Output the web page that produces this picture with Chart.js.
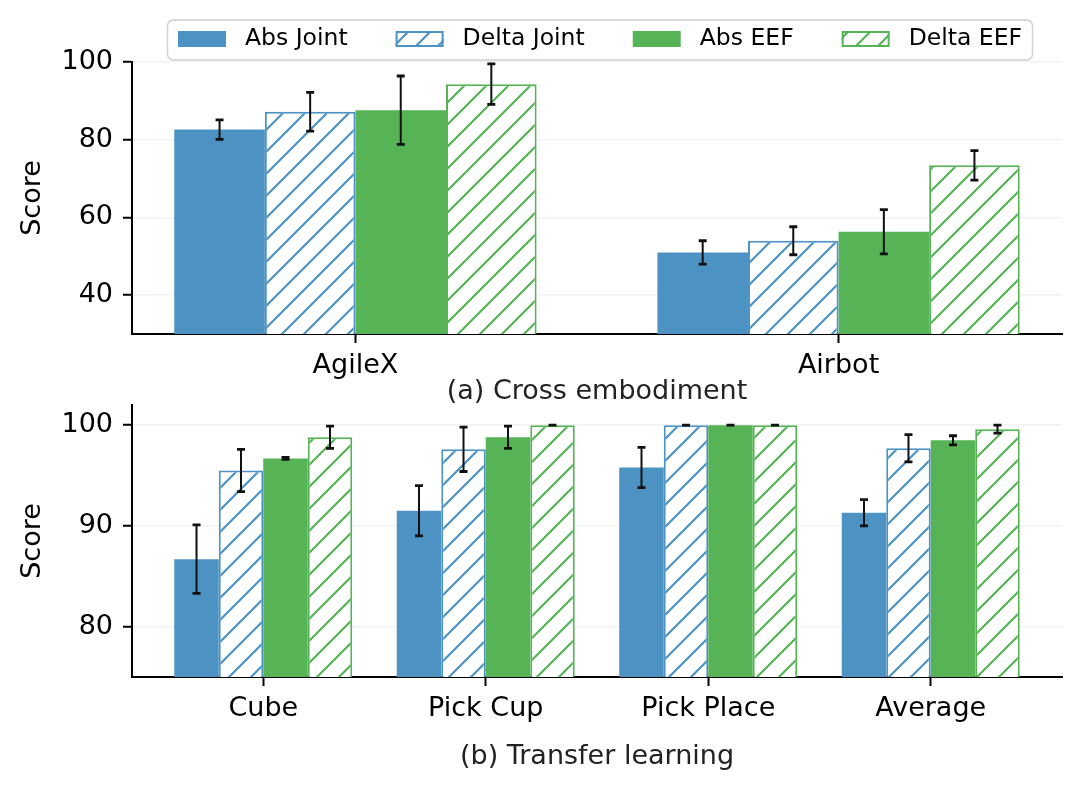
<!DOCTYPE html>
<html>
<head>
<meta charset="utf-8">
<script src="https://cdn.jsdelivr.net/npm/chart.js@4.4.1/dist/chart.umd.min.js"></script>
<style>
  html, body { margin: 0; padding: 0; background: #fff; }
  #wrap { position: relative; width: 1082px; height: 794px; overflow: hidden; }
  .box { position: absolute; left: 0; width: 1082px; }
  #topBox { top: 0; height: 420px; }
  #botBox { top: 400px; height: 394px; }
</style>
</head>
<body>
<div id="wrap">
  <div class="box" id="topBox"><canvas id="topChart"></canvas></div>
  <div class="box" id="botBox"><canvas id="botChart"></canvas></div>
</div>
<script>
// ---- data ----
const seriesNames = ['Abs Joint', 'Delta Joint', 'Abs EEF', 'Delta EEF'];

// (a) cross embodiment
const topCats = ['AgileX', 'Airbot'];
const topAbsJoint = [82.6, 51.0];
const topDeltaJoint = [87.2, 54.0];
const topAbsEef = [87.6, 56.3];
const topDeltaEef = [94.3, 73.4];
const topAbsJointErr = [2.5, 3.0];
const topDeltaJointErr = [5.0, 3.6];
const topAbsEefErr = [8.8, 5.7];
const topDeltaEefErr = [5.2, 3.8];
const topTicks = [40, 60, 80, 100];

// (b) transfer learning
const botCats = ['Cube', 'Pick Cup', 'Pick Place', 'Average'];
const botAbsJoint = [86.7, 91.5, 95.8, 91.3];
const botDeltaJoint = [95.5, 97.6, 100, 97.7];
const botAbsEef = [96.7, 98.8, 100, 98.5];
const botDeltaEef = [98.8, 100, 100, 99.6];
const botAbsJointErr = [3.4, 2.5, 2.0, 1.3];
const botDeltaJointErr = [2.1, 2.2, 0, 1.35];
const botAbsEefErr = [0.1, 1.1, 0, 0.45];
const botDeltaEefErr = [1.1, 0, 0, 0.4];
const botTicks = [80, 90, 100];

// ---- style ----
const BLUE = 'rgb(76,146,195)';
const GREEN = 'rgb(86,179,86)';
const colors = [BLUE, BLUE, GREEN, GREEN];
const hatched = [false, true, false, true];
const FONT = '"DejaVu Sans"';

Chart.defaults.font.family = FONT;
Chart.defaults.color = '#000';

// diagonal "/" hatch
function hatch(color) {
  const s = 22;
  const c = document.createElement('canvas');
  c.width = s; c.height = s;
  const g = c.getContext('2d');
  g.fillStyle = '#fff';
  g.fillRect(0, 0, s, s);
  g.strokeStyle = color;
  g.lineWidth = 2.2;
  g.beginPath();
  g.moveTo(-2, s + 2); g.lineTo(s + 2, -2);
  g.moveTo(-2, 2); g.lineTo(2, -2);
  g.moveTo(s - 2, s + 2); g.lineTo(s + 2, s - 2);
  g.stroke();
  return g.createPattern(c, 'repeat');
}

function makeDatasets(valueLists, errLists) {
  return seriesNames.map((name, k) => ({
    label: name,
    data: valueLists[k].map((v, i) => ({ x: i, y: v })),
    errors: errLists[k],
    backgroundColor: hatched[k] ? hatch(colors[k]) : colors[k],
    borderColor: colors[k],
    borderWidth: hatched[k] ? 2 : 0,
    borderSkipped: false,
  }));
}

const errorBars = {
  id: 'errorBars',
  afterDatasetsDraw(chart) {
    const ctx = chart.ctx;
    const yScale = chart.scales.y;
    ctx.save();
    ctx.strokeStyle = '#111';
    chart.data.datasets.forEach((ds, k) => {
      const meta = chart.getDatasetMeta(k);
      meta.data.forEach((bar, i) => {
        const v = ds.data[i].y, e = ds.errors[i];
        const y1 = yScale.getPixelForValue(v + e);
        const y2 = yScale.getPixelForValue(v - e);
        ctx.lineWidth = 2;
        ctx.beginPath();
        ctx.moveTo(bar.x, y1); ctx.lineTo(bar.x, y2);
        ctx.stroke();
        ctx.lineWidth = 2.8;
        ctx.beginPath();
        ctx.moveTo(bar.x - 4, y1); ctx.lineTo(bar.x + 4, y1);
        ctx.moveTo(bar.x - 4, y2); ctx.lineTo(bar.x + 4, y2);
        ctx.stroke();
      });
    });
    ctx.restore();
  }
};

// framed legend above the top panel
const legendBox = {
  id: 'legendBox',
  afterDraw(chart) {
    const ctx = chart.ctx;
    const sw = 48, sh = 16, gapText = 19, colGap = 48, padX = 10.5;
    ctx.save();
    ctx.font = '23.5px ' + FONT;
    const widths = chart.data.datasets.map(d => ctx.measureText(d.label).width);
    const total = widths.reduce((a, w) => a + sw + gapText + w, 0) + colGap * (widths.length - 1);
    const boxW = total + 2 * padX;
    const bx = 600 - boxW / 2, by = 20, bh = 40;
    ctx.beginPath();
    ctx.roundRect(bx, by, boxW, bh, 6);
    ctx.fillStyle = 'rgba(255,255,255,0.9)';
    ctx.fill();
    ctx.strokeStyle = '#d0d0d0';
    ctx.lineWidth = 1.5;
    ctx.stroke();
    let x = bx + padX;
    const cy = by + bh / 2 - 1;
    chart.data.datasets.forEach((d, k) => {
      ctx.fillStyle = d.backgroundColor;
      ctx.fillRect(x, cy - sh / 2, sw, sh);
      if (d.borderWidth) {
        ctx.strokeStyle = d.borderColor;
        ctx.lineWidth = 2;
        ctx.strokeRect(x + 1, cy - sh / 2 + 1, sw - 2, sh - 2);
      }
      ctx.fillStyle = '#000';
      ctx.textBaseline = 'middle';
      ctx.textAlign = 'left';
      ctx.fillText(d.label, x + sw + gapText, cy);
      x += sw + gapText + widths[k] + colGap;
    });
    ctx.restore();
  }
};

function makeOptions(cfg) {
  return {
    responsive: true,
    maintainAspectRatio: false,
    animation: false,
    layout: { autoPadding: false, padding: { top: cfg.padTop, right: 20, left: 0, bottom: 0 } },
    datasets: { bar: { categoryPercentage: cfg.groupFrac, barPercentage: 1 } },
    plugins: { legend: { display: false }, tooltip: { enabled: false } },
    scales: {
      x: {
        type: 'linear',
        offset: false,
        min: cfg.xMin,
        max: cfg.xMax,
        afterBuildTicks: (s) => { s.ticks = cfg.cats.map((_, i) => ({ value: i })); },
        afterFit: (s) => { s.height = cfg.xHeight; s.paddingLeft = 0; s.paddingRight = 0; },
        ticks: {
          callback: (v) => cfg.cats[v],
          autoSkip: false, maxRotation: 0, padding: 7,
          font: { size: 27 }, color: '#000'
        },
        grid: { offset: false, drawOnChartArea: false, drawTicks: true, tickLength: 9, tickWidth: 2, tickColor: '#000' },
        border: { display: true, color: '#000', width: 2 },
        title: {
          display: true, text: cfg.caption,
          font: { size: 27 }, color: '#222',
          padding: { top: 0, bottom: cfg.captionPad }
        }
      },
      y: {
        min: cfg.yMin,
        max: cfg.yMax,
        afterBuildTicks: (s) => { s.ticks = cfg.yTicks.map(v => ({ value: v })); },
        afterFit: (s) => { s.width = 132; s.paddingTop = 0; s.paddingBottom = 0; },
        ticks: { padding: 10, font: { size: 27 }, color: '#000' },
        grid: { color: 'rgba(0,0,0,0.05)', lineWidth: 1.5, drawTicks: true, tickLength: 9, tickWidth: 2, tickColor: '#000' },
        border: { display: true, color: '#000', width: 2 },
        title: {
          display: true, text: 'Score',
          font: { size: 27 }, color: '#000',
          padding: { top: 17, bottom: 0 }
        }
      }
    }
  };
}

new Chart(document.getElementById('topChart'), {
  type: 'bar',
  data: {
    datasets: makeDatasets(
      [topAbsJoint, topDeltaJoint, topAbsEef, topDeltaEef],
      [topAbsJointErr, topDeltaJointErr, topAbsEefErr, topDeltaEefErr]
    )
  },
  options: makeOptions({
    cats: topCats, yMin: 30, yMax: 100, yTicks: topTicks,
    xMin: -0.4625, xMax: 1.4625, groupFrac: 0.75,
    caption: '(a) Cross embodiment', padTop: 62, xHeight: 86, captionPad: 12
  }),
  plugins: [errorBars, legendBox]
});

new Chart(document.getElementById('botChart'), {
  type: 'bar',
  data: {
    datasets: makeDatasets(
      [botAbsJoint, botDeltaJoint, botAbsEef, botDeltaEef],
      [botAbsJointErr, botDeltaJointErr, botAbsEefErr, botDeltaEefErr]
    )
  },
  options: makeOptions({
    cats: botCats, yMin: 75, yMax: 102, yTicks: botTicks,
    xMin: -0.59, xMax: 3.59, groupFrac: 0.8,
    caption: '(b) Transfer learning', padTop: 5, xHeight: 117, captionPad: 21
  }),
  plugins: [errorBars]
});
</script>
</body>
</html>
